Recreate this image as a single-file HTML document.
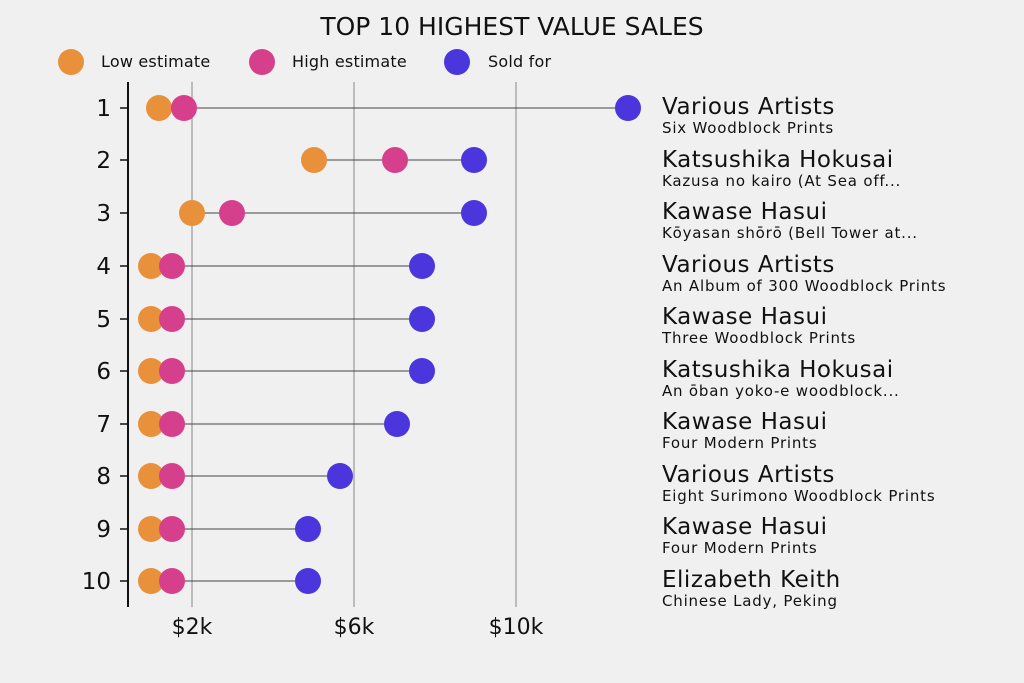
<!DOCTYPE html>
<html><head><meta charset="utf-8"><style>
body{margin:0;background:#f0f0f0;}
svg{display:block;font-family:"DejaVu Sans","Liberation Sans",sans-serif;}
</style></head><body>
<svg width="1024" height="683" viewBox="0 0 1024 683">
<rect width="1024" height="683" fill="#f0f0f0"/>
<text x="512" y="35" text-anchor="middle" font-size="25" fill="#111">TOP 10 HIGHEST VALUE SALES</text>
<g font-size="16" letter-spacing="0.2" fill="#111">
<circle cx="71" cy="62" r="13" fill="#e8903a"/><text x="101" y="67">Low estimate</text>
<circle cx="262" cy="62" r="13" fill="#d63f8c"/><text x="292" y="67">High estimate</text>
<circle cx="457" cy="62" r="13" fill="#4b35dd"/><text x="488" y="67">Sold for</text>
</g>
<g stroke="#aaa" stroke-width="1.5">
<line x1="192" y1="82" x2="192" y2="607"/><line x1="354" y1="82" x2="354" y2="607"/><line x1="516" y1="82" x2="516" y2="607"/>
</g>
<line x1="128" y1="82" x2="128" y2="607" stroke="#111" stroke-width="2"/>
<g stroke="#111" stroke-width="1.5">
<line x1="120" y1="108" x2="128" y2="108"/><line x1="120" y1="160" x2="128" y2="160"/><line x1="120" y1="213" x2="128" y2="213"/><line x1="120" y1="266" x2="128" y2="266"/><line x1="120" y1="319" x2="128" y2="319"/><line x1="120" y1="371" x2="128" y2="371"/><line x1="120" y1="424" x2="128" y2="424"/><line x1="120" y1="476" x2="128" y2="476"/><line x1="120" y1="529" x2="128" y2="529"/><line x1="120" y1="581" x2="128" y2="581"/>
</g>
<g font-size="22" fill="#111" text-anchor="middle">
<text x="192" y="634">$2k</text><text x="354" y="634">$6k</text><text x="516" y="634">$10k</text>
</g>
<g font-size="23" fill="#111" text-anchor="end">
<text x="111" y="116">1</text><text x="111" y="168">2</text><text x="111" y="221">3</text><text x="111" y="274">4</text><text x="111" y="327">5</text><text x="111" y="379">6</text><text x="111" y="432">7</text><text x="111" y="484">8</text><text x="111" y="537">9</text><text x="111" y="589">10</text>
</g>
<g stroke="#444" stroke-width="0.9">
<line x1="159" y1="108" x2="628" y2="108"/>
<line x1="314" y1="160" x2="474" y2="160"/>
<line x1="192" y1="213" x2="474" y2="213"/>
<line x1="151" y1="266" x2="422" y2="266"/>
<line x1="151" y1="319" x2="422" y2="319"/>
<line x1="151" y1="371" x2="422" y2="371"/>
<line x1="151" y1="424" x2="397" y2="424"/>
<line x1="151" y1="476" x2="340" y2="476"/>
<line x1="151" y1="529" x2="308" y2="529"/>
<line x1="151" y1="581" x2="308" y2="581"/>
</g>
<g fill="#e8903a">
<circle cx="159" cy="108" r="13"/><circle cx="314" cy="160" r="13"/><circle cx="192" cy="213" r="13"/>
<circle cx="151" cy="266" r="13"/><circle cx="151" cy="319" r="13"/><circle cx="151" cy="371" r="13"/><circle cx="151" cy="424" r="13"/><circle cx="151" cy="476" r="13"/><circle cx="151" cy="529" r="13"/><circle cx="151" cy="581" r="13"/>
</g>
<g fill="#d63f8c">
<circle cx="184" cy="108" r="13"/><circle cx="395" cy="160" r="13"/><circle cx="232" cy="213" r="13"/>
<circle cx="172" cy="266" r="13"/><circle cx="172" cy="319" r="13"/><circle cx="172" cy="371" r="13"/><circle cx="172" cy="424" r="13"/><circle cx="172" cy="476" r="13"/><circle cx="172" cy="529" r="13"/><circle cx="172" cy="581" r="13"/>
</g>
<g fill="#4b35dd">
<circle cx="628" cy="108" r="13"/><circle cx="474" cy="160" r="13"/><circle cx="474" cy="213" r="13"/>
<circle cx="422" cy="266" r="13"/><circle cx="422" cy="319" r="13"/><circle cx="422" cy="371" r="13"/><circle cx="397" cy="424" r="13"/><circle cx="340" cy="476" r="13"/><circle cx="308" cy="529" r="13"/><circle cx="308" cy="581" r="13"/>
</g>
<g fill="#111">
<g font-size="23" letter-spacing="0.5">
<text x="662" y="114">Various Artists</text>
<text x="662" y="167">Katsushika Hokusai</text>
<text x="662" y="219">Kawase Hasui</text>
<text x="662" y="272">Various Artists</text>
<text x="662" y="324">Kawase Hasui</text>
<text x="662" y="377">Katsushika Hokusai</text>
<text x="662" y="429">Kawase Hasui</text>
<text x="662" y="482">Various Artists</text>
<text x="662" y="534">Kawase Hasui</text>
<text x="662" y="587">Elizabeth Keith</text>
</g>
<g font-size="15" letter-spacing="0.8">
<text x="662" y="133">Six Woodblock Prints</text>
<text x="662" y="186">Kazusa no kairo (At Sea off...</text>
<text x="662" y="238">Kōyasan shōrō (Bell Tower at...</text>
<text x="662" y="291">An Album of 300 Woodblock Prints</text>
<text x="662" y="343">Three Woodblock Prints</text>
<text x="662" y="396">An ōban yoko-e woodblock...</text>
<text x="662" y="448">Four Modern Prints</text>
<text x="662" y="501">Eight Surimono Woodblock Prints</text>
<text x="662" y="553">Four Modern Prints</text>
<text x="662" y="606">Chinese Lady, Peking</text>
</g>
</g>
</svg>
</body></html>
